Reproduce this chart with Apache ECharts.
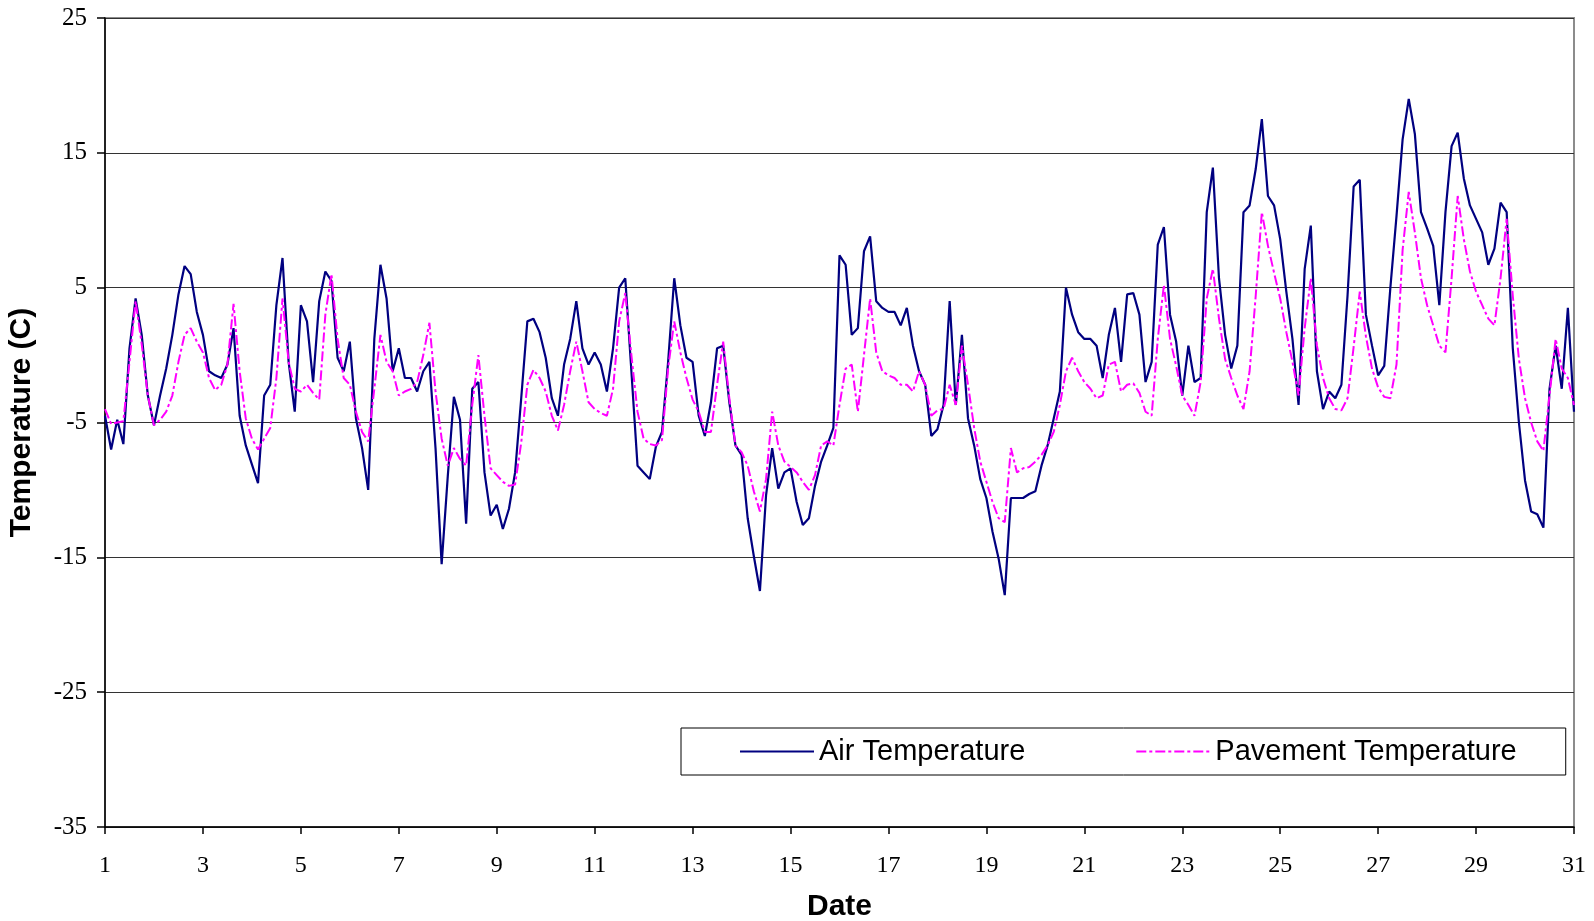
<!DOCTYPE html>
<html><head><meta charset="utf-8">
<script src="https://cdn.jsdelivr.net/npm/echarts@6/dist/echarts.min.js"></script>
<style>html,body{margin:0;padding:0;background:#fff}#c{width:1594px;height:921px}</style>
</head><body><div id="c"></div>
<script>
// Series names
const seriesNames = ['Air Temperature', 'Pavement Temperature'];
// Readings every 3 hours, starting on day 1
const startDay = 1;
const stepDays = 0.125;
// Air temperature (C), 8 readings per day, days 1..30, plus day 31 00:00
const airTemp = [
  -4.5, -7.0, -4.8, -6.6, 0.5, 4.2, 1.5, -3.0,
  -5.2, -3.0, -1.0, 1.5, 4.5, 6.6, 6.0, 3.2,
  1.5, -1.2, -1.5, -1.7, -0.7, 2.0, -4.5, -6.7,
  -8.1, -9.5, -3.0, -2.2, 3.7, 7.2, -0.5, -4.2,
  3.7, 2.5, -2.0, 4.0, 6.2, 5.5, -0.2, -1.2,
  1.0, -4.7, -6.9, -10.0, 1.2, 6.7, 4.2, -1.2,
  0.5, -1.7, -1.7, -2.7, -1.2, -0.5, -6.9, -15.5,
  -9.0, -3.1, -4.8, -12.5, -2.5, -2.0, -8.7, -11.9,
  -11.1, -12.9, -11.4, -8.7, -3.2, 2.5, 2.7, 1.7,
  -0.2, -3.2, -4.5, -0.7, 1.2, 4.0, 0.5, -0.7,
  0.2, -0.7, -2.7, 0.5, 5.0, 5.7, -1.2, -8.2,
  -8.7, -9.2, -6.8, -5.7, -0.5, 5.7, 2.2, -0.2,
  -0.5, -4.5, -6.0, -3.5, 0.5, 0.7, -3.5, -6.7,
  -7.4, -12.1, -14.9, -17.5, -10.4, -6.9, -9.9, -8.7,
  -8.4, -10.9, -12.6, -12.1, -9.7, -7.9, -6.7, -5.4,
  7.4, 6.7, 1.5, 2.0, 7.7, 8.8, 4.0, 3.5,
  3.2, 3.2, 2.2, 3.5, 0.7, -1.2, -2.2, -6.0,
  -5.5, -3.7, 4.0, -3.7, 1.5, -4.7, -6.7, -9.2,
  -10.6, -13.1, -15.1, -17.8, -10.6, -10.6, -10.6, -10.3,
  -10.1, -8.2, -6.7, -4.7, -2.7, 5.0, 3.0, 1.7,
  1.2, 1.2, 0.7, -1.7, 1.5, 3.5, -0.5, 4.5,
  4.6, 3.0, -2.0, -0.5, 8.2, 9.5, 3.0, 1.0,
  -3.0, 0.7, -2.0, -1.7, 10.6, 13.9, 5.7, 1.5,
  -1.0, 0.7, 10.6, 11.1, 13.8, 17.5, 11.8, 11.1,
  8.6, 4.7, 1.2, -3.7, 6.4, 9.6, -1.2, -4.0,
  -2.7, -3.2, -2.2, 4.4, 12.5, 13.0, 3.0, 0.7,
  -1.5, -0.8, 5.0, 10.3, 16.0, 19.0, 16.4, 10.6,
  9.4, 8.1, 3.7, 10.6, 15.5, 16.5, 13.1, 11.1,
  10.1, 9.1, 6.7, 7.9, 11.3, 10.6, 0.5, -5.0,
  -9.3, -11.6, -11.8, -12.8, -2.5, 0.7, -2.5, 3.5,
  -4.2
];
// Pavement temperature (C), same timing
const pavementTemp = [
  -4.0, -5.1, -5.0, -4.9, -0.5, 4.0, 0.8, -3.0,
  -5.2, -4.8, -4.2, -3.0, -0.5, 1.5, 2.0, 1.0,
  0.2, -1.7, -2.6, -2.2, -0.7, 3.8, -1.2, -4.7,
  -6.2, -7.0, -6.2, -5.4, -1.7, 4.2, -0.5, -2.5,
  -2.7, -2.2, -2.8, -3.3, 3.0, 6.0, 1.2, -1.7,
  -2.2, -4.2, -5.7, -6.4, -2.5, 1.5, -0.5, -1.2,
  -3.0, -2.7, -2.5, -2.0, 0.0, 2.4, -2.7, -6.2,
  -8.2, -6.9, -7.7, -8.2, -3.7, 0.0, -4.5, -8.4,
  -8.9, -9.4, -9.7, -9.6, -6.5, -2.2, -1.1, -1.7,
  -2.7, -4.5, -5.6, -3.7, -1.2, 1.0, -1.2, -3.5,
  -4.0, -4.3, -4.5, -2.5, 2.5, 4.6, 0.0, -4.2,
  -6.2, -6.6, -6.7, -6.3, -1.0, 2.5, 0.2, -1.7,
  -3.3, -4.2, -5.7, -5.7, -2.2, 1.0, -3.2, -6.7,
  -7.2, -8.2, -10.1, -11.6, -9.2, -4.2, -6.7, -7.9,
  -8.3, -8.7, -9.4, -10.0, -8.9, -6.7, -6.4, -6.7,
  -3.7, -1.0, -0.7, -4.2, 0.0, 4.2, 0.2, -1.2,
  -1.5, -1.7, -2.2, -2.2, -2.7, -1.2, -2.2, -4.5,
  -4.1, -4.0, -2.2, -3.7, 0.7, -2.2, -5.4, -7.9,
  -9.4, -10.9, -12.1, -12.4, -6.9, -8.7, -8.4, -8.3,
  -7.9, -7.4, -6.7, -5.7, -3.7, -1.2, -0.2, -1.2,
  -2.0, -2.5, -3.2, -3.0, -0.7, -0.5, -2.7, -2.2,
  -2.1, -2.8, -4.2, -4.5, 1.2, 5.2, 1.2, -0.8,
  -3.0, -3.7, -4.5, -2.0, 4.2, 6.4, 2.7, -0.3,
  -1.7, -3.0, -4.0, -1.2, 4.4, 10.6, 8.1, 6.1,
  4.2, 1.7, -0.5, -3.0, 2.0, 5.7, 0.7, -1.7,
  -3.2, -4.0, -4.1, -3.2, 0.6, 4.7, 1.4, -1.0,
  -2.4, -3.1, -3.2, -0.7, 7.8, 12.1, 9.1, 5.7,
  3.7, 2.2, 0.7, 0.2, 5.7, 11.8, 8.6, 6.2,
  4.7, 3.7, 2.7, 2.2, 5.7, 10.1, 4.4, -0.3,
  -3.2, -5.0, -6.4, -7.1, -3.0, 1.2, -1.0, -1.7,
  -3.7
];
// Axis ranges
const xRange = [1, 31, 2];
const yRange = [-35, 25, 10];
const xTitle = 'Date';
const yTitle = 'Temperature (C)';

function toPairs(vals) {
  return vals.map((v, i) => [startDay + i * stepDays, v]);
}

const chart = echarts.init(document.getElementById('c'), null, {renderer: 'canvas'});
const serif = 'Liberation Serif, Times New Roman, serif';
const sans = 'Liberation Sans, Arial, sans-serif';
chart.setOption({
  animation: false,
  backgroundColor: '#ffffff',
  grid: {left: 105, right: 20, top: 18, bottom: 94, containLabel: false, outerBoundsMode: 'none',
         show: true, borderColor: '#8c8c8c', borderWidth: 2, backgroundColor: 'transparent'},
  legend: {
    data: seriesNames,
    left: 681, top: 728,
    padding: [9, 49, 9, 58],
    itemGap: 110,
    itemWidth: 74,
    itemHeight: 14,
    itemStyle: {color: 'transparent', borderColor: 'transparent', borderWidth: 0, opacity: 0},
    borderColor: '#000', borderWidth: 1,
    textStyle: {fontFamily: sans, fontSize: 29, color: '#000'}
  },
  xAxis: {
    type: 'value', min: xRange[0], max: xRange[1], interval: xRange[2],
    name: xTitle, nameLocation: 'middle', nameGap: 65,
    nameTextStyle: {fontFamily: sans, fontSize: 30, fontWeight: 'bold', color: '#000'},
    axisLine: {show: true, onZero: false, lineStyle: {color: '#000', width: 1.5}},
    axisTick: {show: true, length: 7, lineStyle: {color: '#000', width: 1.5}},
    axisLabel: {fontFamily: serif, fontSize: 24, color: '#000', margin: 27},
    splitLine: {show: false}
  },
  yAxis: {
    type: 'value', min: yRange[0], max: yRange[1], interval: yRange[2],
    name: yTitle, nameLocation: 'middle', nameGap: 68,
    nameTextStyle: {fontFamily: sans, fontSize: 30, fontWeight: 'bold', color: '#000'},
    axisLine: {show: true, lineStyle: {color: '#000', width: 1.5}},
    axisTick: {show: true, length: 8, lineStyle: {color: '#000', width: 1.5}},
    axisLabel: {fontFamily: serif, fontSize: 25, color: '#000', margin: 18},
    splitLine: {show: true, lineStyle: {color: '#333', width: 1.2}}
  },
  series: [
    {
      name: seriesNames[0], type: 'line', data: toPairs(airTemp),
      symbol: 'none', showSymbol: false, smooth: false,
      lineStyle: {color: '#000080', width: 2.2},
      itemStyle: {color: '#000080'}, z: 3
    },
    {
      name: seriesNames[1], type: 'line', data: toPairs(pavementTemp),
      symbol: 'none', showSymbol: false, smooth: false,
      lineStyle: {color: '#ff00ff', width: 2, type: [10, 3, 3, 3]},
      itemStyle: {color: '#ff00ff'}, z: 4
    }
  ]
});
</script></body></html>
